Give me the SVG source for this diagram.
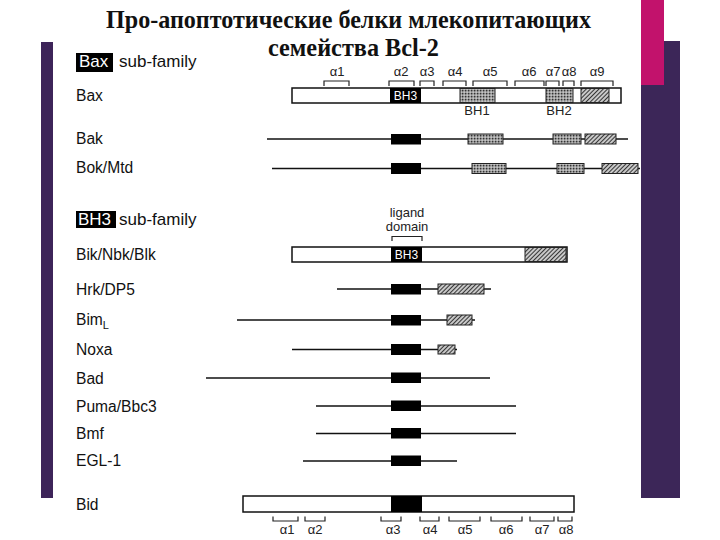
<svg xmlns="http://www.w3.org/2000/svg" width="720" height="540" viewBox="0 0 720 540">
<style>
.lbl{font-family:"Liberation Sans",Arial,sans-serif;font-size:15.6px;fill:#111}
.hdr{font-family:"Liberation Sans",Arial,sans-serif;font-size:17px;fill:#111}
.hdrw{font-family:"Liberation Sans",Arial,sans-serif;font-size:17px;fill:#fff}
.sm{font-family:"Liberation Sans",Arial,sans-serif;font-size:13px;fill:#222;text-anchor:middle}
.bh{font-family:"Liberation Sans",Arial,sans-serif;font-size:12px;fill:#fff;text-anchor:middle}
.title{font-family:"Liberation Serif","Times New Roman",serif;font-weight:bold;font-size:25px;fill:#111}
.bar{fill:#fff;stroke:#111;stroke-width:1.5}
.ln{stroke:#111;stroke-width:1.4;fill:none}
.blk{fill:#000}
.st{fill:url(#stip);stroke:#222;stroke-width:1}
.ht{fill:url(#hatch);stroke:#222;stroke-width:1}
.br{fill:none;stroke:#222;stroke-width:1.2}
</style>
<defs>
<pattern id="stip" width="3" height="3" patternUnits="userSpaceOnUse">
<rect width="3" height="3" fill="#999"/>
<rect x="0" y="0" width="1.3" height="1.3" fill="#333"/>
<rect x="1.5" y="1.5" width="1.3" height="1.3" fill="#ddd"/>
</pattern>
<pattern id="hatch" width="3" height="3" patternUnits="userSpaceOnUse" patternTransform="rotate(45)">
<rect width="3" height="3" fill="#c8c8c8"/>
<line x1="0" y1="0" x2="0" y2="3" stroke="#1a1a1a" stroke-width="1.7"/>
</pattern>
</defs>
<rect width="720" height="540" fill="#fff"/>
<g id="deco">
<rect x="41" y="42" width="12" height="456" fill="#3d2459"/>
<rect x="641" y="41" width="39" height="457" fill="#3c2658"/>
<rect x="641" y="0" width="23" height="85" fill="#c2126c"/>
</g>
<g id="title">
<text class="title" x="106" y="28" textLength="485" lengthAdjust="spacingAndGlyphs">Про-апоптотические белки млекопитающих</text>
<text class="title" x="268" y="56" textLength="171" lengthAdjust="spacingAndGlyphs">семейства Bcl-2</text>
</g>
<g id="bax-header">
<rect x="76" y="53" width="37" height="19" fill="#000"/>
<text class="hdrw" x="79" y="67">Bax</text>
<text class="hdr" x="119" y="67">sub-family</text>
</g>
<g id="bax">
<text class="lbl" x="76" y="101">Bax</text>
<text class="sm" x="337" y="76">α1</text>
<text class="sm" x="401" y="76">α2</text>
<text class="sm" x="427" y="76">α3</text>
<text class="sm" x="455" y="76">α4</text>
<text class="sm" x="490" y="76">α5</text>
<text class="sm" x="529" y="76">α6</text>
<text class="sm" x="553" y="76">α7</text>
<text class="sm" x="569" y="76">α8</text>
<text class="sm" x="597" y="76">α9</text>
<path class="br" d="M324,86V81H349V86M389,86V81H414V86M420,86V81H434V86M443,86V81H466V86M473,86V81H507V86M515,86V81H544V86M546,86V81H559V86M563,86V81H574V86M581,86V81H613V86"/>
<rect class="bar" x="292" y="88" width="329" height="15"/>
<rect class="blk" x="390" y="88" width="31" height="15"/>
<text class="bh" x="405.5" y="100">BH3</text>
<rect class="st" x="460" y="88.5" width="35" height="14"/>
<rect class="st" x="546" y="88.5" width="27" height="14"/>
<rect class="ht" x="581" y="88.5" width="28" height="14"/>
<text class="sm" x="477" y="115">BH1</text>
<text class="sm" x="559" y="115">BH2</text>
</g>
<g id="bak">
<text class="lbl" x="76" y="144">Bak</text>
<line class="ln" x1="267" y1="139" x2="628" y2="139"/>
<rect class="blk" x="391" y="134" width="30" height="10.5"/>
<rect class="st" x="468" y="134" width="35" height="10"/>
<rect class="st" x="553" y="134" width="28" height="10"/>
<rect class="ht" x="585" y="134" width="31" height="10"/>
</g>
<g id="bok">
<text class="lbl" x="76" y="173">Bok/Mtd</text>
<line class="ln" x1="272" y1="168.5" x2="640" y2="168.5"/>
<rect class="blk" x="391" y="163" width="30" height="11"/>
<rect class="st" x="472" y="163.5" width="34" height="10"/>
<rect class="st" x="557" y="163.5" width="27" height="10"/>
<rect class="ht" x="602" y="163.5" width="36" height="10"/>
</g>
<g id="bh3-header">
<rect x="76" y="211" width="40" height="17" fill="#000"/>
<text class="hdrw" x="78" y="225">BH3</text>
<text class="hdr" x="119" y="225">sub-family</text>
</g>
<g id="bik">
<text class="lbl" x="76" y="260">Bik/Nbk/Blk</text>
<text class="sm" x="407" y="217">ligand</text>
<text class="sm" x="407" y="231">domain</text>
<path class="br" d="M392,241V236.5H422V241"/>
<rect class="bar" x="292" y="247" width="275" height="15"/>
<rect class="blk" x="391" y="247" width="31" height="15"/>
<text class="bh" x="406.5" y="259">BH3</text>
<rect class="ht" x="525" y="247.5" width="41" height="14"/>
</g>
<g id="hrk">
<text class="lbl" x="76" y="295">Hrk/DP5</text>
<line class="ln" x1="337" y1="289" x2="491" y2="289"/>
<rect class="blk" x="391" y="284" width="30" height="10.5"/>
<rect class="ht" x="438" y="284" width="46" height="10"/>
</g>
<g id="bim">
<text class="lbl" x="76" y="325">Bim<tspan font-size="11" dy="4">L</tspan></text>
<line class="ln" x1="237" y1="320" x2="475" y2="320"/>
<rect class="blk" x="391" y="315" width="30" height="10.5"/>
<rect class="ht" x="447" y="315" width="25" height="10"/>
</g>
<g id="noxa">
<text class="lbl" x="76" y="355">Noxa</text>
<line class="ln" x1="292" y1="349.5" x2="457" y2="349.5"/>
<rect class="blk" x="391" y="344" width="30" height="11"/>
<rect class="ht" x="438" y="345" width="17" height="9"/>
</g>
<g id="bad">
<text class="lbl" x="76" y="384">Bad</text>
<line class="ln" x1="206" y1="378" x2="490" y2="378"/>
<rect class="blk" x="391" y="372.5" width="30" height="10.5"/>
</g>
<g id="puma">
<text class="lbl" x="76" y="411.5">Puma/Bbc3</text>
<line class="ln" x1="316" y1="406" x2="516" y2="406"/>
<rect class="blk" x="391" y="400.5" width="30" height="10.5"/>
</g>
<g id="bmf">
<text class="lbl" x="76" y="439">Bmf</text>
<line class="ln" x1="316" y1="433.5" x2="516" y2="433.5"/>
<rect class="blk" x="391" y="428" width="30" height="10.5"/>
</g>
<g id="egl1">
<text class="lbl" x="76" y="466">EGL-1</text>
<line class="ln" x1="303" y1="461" x2="457" y2="461"/>
<rect class="blk" x="391" y="455.5" width="30" height="10.5"/>
</g>
<g id="bid">
<text class="lbl" x="76" y="510">Bid</text>
<rect class="bar" x="243" y="496" width="331" height="16"/>
<rect class="blk" x="391" y="496" width="31" height="16"/>
<path class="br" d="M273,516.5V521H298V516.5M305,516.5V521H325V516.5M381,516.5V521H401V516.5M420,516.5V521H439V516.5M449,516.5V521H480V516.5M491,516.5V521H522V516.5M530,516.5V521H554V516.5M558,516.5V521H572V516.5"/>
<text class="sm" x="287" y="534">α1</text>
<text class="sm" x="315" y="534">α2</text>
<text class="sm" x="393" y="534">α3</text>
<text class="sm" x="430" y="534">α4</text>
<text class="sm" x="465" y="534">α5</text>
<text class="sm" x="506" y="534">α6</text>
<text class="sm" x="542" y="534">α7</text>
<text class="sm" x="566" y="534">α8</text>
</g>
</svg>
